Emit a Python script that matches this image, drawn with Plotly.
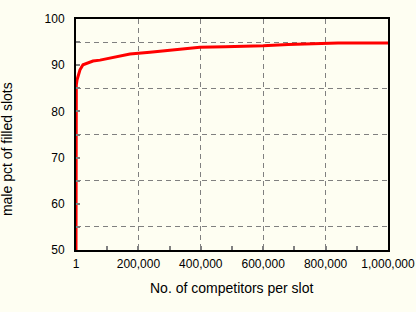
import plotly.graph_objects as go

# data
competitors = [1, 1, 1000, 3200, 7400, 12800, 22400, 35000, 54500, 77000,
               109000, 141000, 173000, 237000, 317000, 397000, 478000,
               600000, 680000, 840000, 1000000]
male_pct = [50, 83.2, 85.7, 86.8, 87.9, 89.0, 90.1, 90.4, 90.9, 91.1,
            91.5, 92.0, 92.4, 92.8, 93.4, 93.9, 94.0,
            94.2, 94.5, 94.8, 94.8]

x_tickvals = [1, 200000, 400000, 600000, 800000, 1000000]
x_ticktext = ["1", "200,000", "400,000", "600,000", "800,000", "1,000,000"]
x_minor = [100000, 300000, 500000, 700000, 900000]
y_tickvals = [50, 60, 70, 80, 90, 100]
y_grid = [55, 65, 75, 85, 95]

bg = "#FEFEF2"
font = "Liberation Sans, Arial, sans-serif"
dash = "5px,4px"

fig = go.Figure()
fig.add_trace(go.Scatter(x=competitors, y=male_pct, mode="lines",
                         line=dict(color="#FF0000", width=3), showlegend=False))

fig.update_layout(
    width=416, height=312,
    margin=dict(l=76, r=28, t=19, b=62),
    paper_bgcolor=bg, plot_bgcolor=bg,
    font=dict(family=font, size=12, color="black"),
    xaxis=dict(
        range=[1, 1000000], tickvals=x_tickvals, ticktext=x_ticktext,
        automargin=False, ticklabelstandoff=2,
        ticks="inside", ticklen=4, tickwidth=2, tickcolor="#808080",
        showgrid=True, gridcolor="#808080", griddash=dash, gridwidth=1,
        showline=True, linecolor="black", linewidth=2, mirror=True,
        zeroline=False, tickfont=dict(size=12),
        minor=dict(tickvals=x_minor, ticks="inside", ticklen=4, tickwidth=2,
                   tickcolor="#808080", showgrid=False),
    ),
    yaxis=dict(
        range=[50, 100], tickvals=y_tickvals,
        automargin=False, ticklabelstandoff=7,
        ticks="inside", ticklen=4, tickwidth=2, tickcolor="#808080",
        showgrid=False,
        showline=True, linecolor="black", linewidth=2, mirror=True,
        zeroline=False, tickfont=dict(size=12),
        minor=dict(tickvals=y_grid, ticks="inside", ticklen=4, tickwidth=2,
                   tickcolor="#808080", showgrid=True, gridcolor="#808080",
                   griddash=dash, gridwidth=1),
    ),
    annotations=[
        dict(text="No. of competitors per slot", xref="paper", yref="paper",
             x=0.5, y=-0.1645, yanchor="middle", xanchor="center", showarrow=False,
             font=dict(size=14)),
        dict(text="male pct of filled slots", xref="paper", yref="paper",
             x=-0.221, y=0.437, textangle=-90, xanchor="center", yanchor="middle",
             showarrow=False, font=dict(size=14)),
    ],
)

fig.write_html("out.html")
